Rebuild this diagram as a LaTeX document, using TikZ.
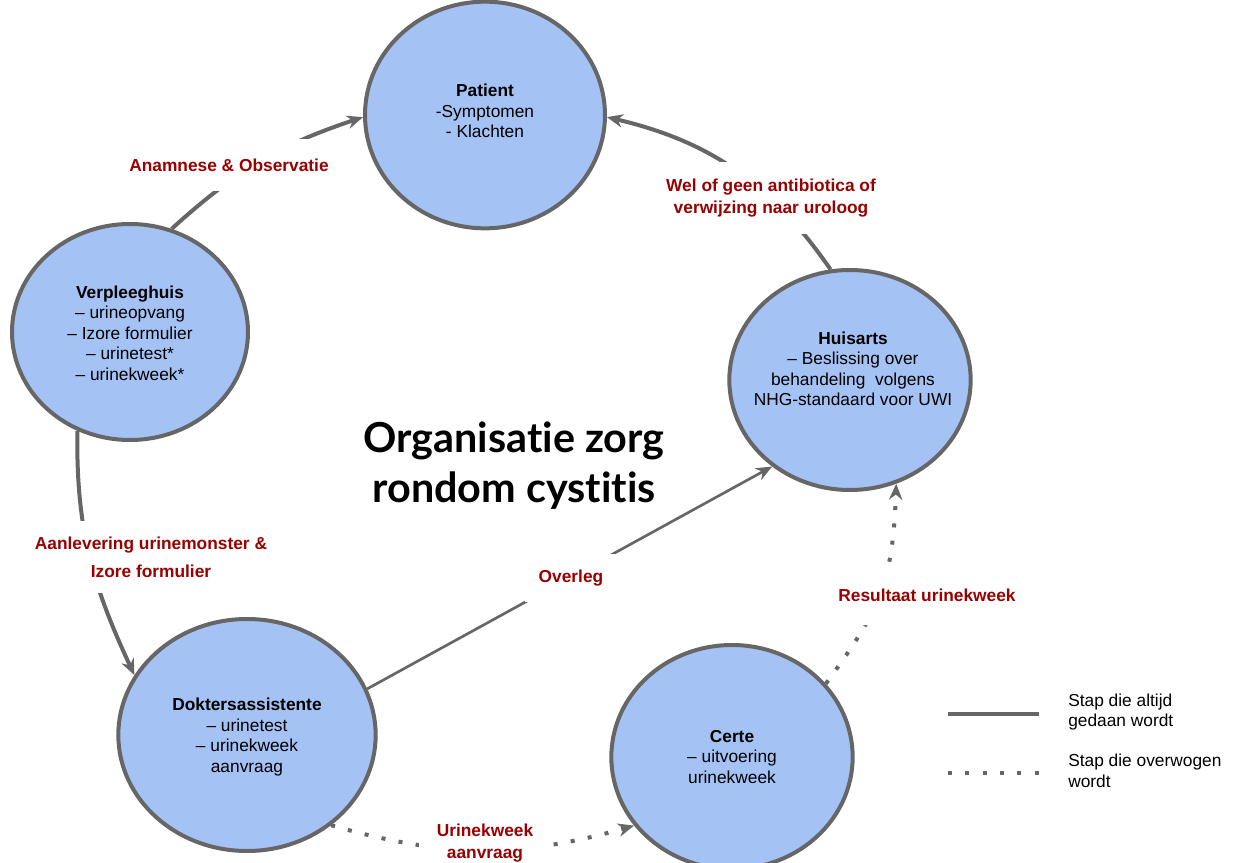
\documentclass[tikz,border=0pt]{standalone}
\usepackage{fontspec}
\setmainfont{Liberation Sans}
\newfontfamily\titlefont[Ligatures=NoCommon]{Lato}
\usetikzlibrary{shapes.geometric,arrows.meta}
\definecolor{blobfill}{HTML}{A4C2F4}
\definecolor{edgegray}{HTML}{666666}
\definecolor{labelred}{HTML}{990000}

\begin{document}
\begin{tikzpicture}[x=0.75pt,y=-0.75pt,
  blob/.style={ellipse, draw=edgegray, fill=blobfill, line width=3pt, inner sep=0pt},
  body/.style={align=center, font=\fontsize{13}{15.4}\selectfont, text=black, inner sep=0pt},
  steplabel/.style={align=center, font=\bfseries\fontsize{13}{16.5}\selectfont, text=labelred, fill=white},
  always/.style={draw=edgegray, line width=3pt, -{Stealth[length=12pt,width=10pt]}},
  maybe/.style={draw=edgegray, line width=3pt, dash pattern=on 3pt off 10pt, -{Stealth[length=12pt,width=10pt]}},
]
\useasboundingbox (0,0) rectangle (1233,863);

% care stations
\node[blob, minimum width=180pt, minimum height=170pt] (pat) at (485,115) {};
\node[blob, minimum width=177pt, minimum height=162pt] (vph) at (130,332) {};
\node[blob, minimum width=181pt, minimum height=165pt] (hua) at (850,380) {};
\node[blob, minimum width=193pt, minimum height=174pt] (dra) at (247,735) {};
\node[blob, minimum width=181pt, minimum height=168pt] (cer) at (732,757) {};

\node[body] (patT) at (485,111) {\textbf{Patient}\\-Symptomen\\- Klachten};
\node[body] (vphT) at (130,333) {\textbf{Verpleeghuis}\\– urineopvang\\– Izore formulier\\– urinetest*\\– urinekweek*};
\node[body] (huaT) at (853,369) {\textbf{Huisarts}\\– Beslissing over\\behandeling\ \ volgens\\NHG-standaard voor UWI};
\node[body] (draT) at (247,737) {\textbf{Doktersassistente}\\– urinetest\\– urinekweek\\aanvraag};
\node[body] (cerT) at (732,757) {\textbf{Certe}\\– uitvoering\\urinekweek};

% steps
\draw[always] (vph.68) to[bend left=12] (pat.181);
\draw[always] (hua.100) to[bend right=21] (pat.-1);
\draw[always] (vph.-118) to[out=-91,in=115] (dra.152);
\draw[always, line width=2pt] (dra.21) -- (hua.-132);
\draw[maybe] (dra.-47) to[bend right=16] (cer.-145);
\draw[maybe] (cer.38) .. controls (878,612) and (893,585) .. (hua.-66);

% step labels
\node[steplabel, inner xsep=3pt, inner ysep=15pt] (l1) at (229,165) {Anamnese \& Observatie};
\node[steplabel, inner xsep=3pt, inner ysep=13pt] (l2) at (771,198) {Wel of geen antibiotica of\\verwijzing naar uroloog};
\node[steplabel, inner xsep=3pt, inner ysep=12pt, font=\bfseries\fontsize{13}{21}\selectfont] (l3) at (151,557) {Aanlevering urinemonster \&\\Izore formulier};
\node[steplabel, inner xsep=10.5pt, inner ysep=12pt] (l4) at (571,578) {Overleg};
\node[steplabel, inner xsep=13pt, inner ysep=2pt] (l5) at (485,843) {Urinekweek\\aanvraag};
\node[steplabel, inner xsep=3pt, inner ysep=18pt] (l6) at (927,595) {Resultaat urinekweek};

% title
\node[font=\titlefont\bfseries\fontsize{31}{37.5}\selectfont, align=center] (title) at (514,466) {Organisatie zorg\\rondom cystitis};

% legend
\coordinate (a1) at (948,714);
\coordinate (a2) at (1039,714);
\draw[edgegray, line width=3pt] (a1) -- (a2);
\node[body, align=left, anchor=west] (t1) at (1068,712) {Stap die altijd\\gedaan wordt};
\coordinate (b1) at (948,773);
\coordinate (b2) at (1040,773);
\draw[edgegray, line width=3pt, dash pattern=on 3pt off 10pt] (b1) -- (b2);
\node[body, align=left, anchor=west] (t2) at (1068,771) {Stap die overwogen\\wordt};
\end{tikzpicture}
\end{document}
